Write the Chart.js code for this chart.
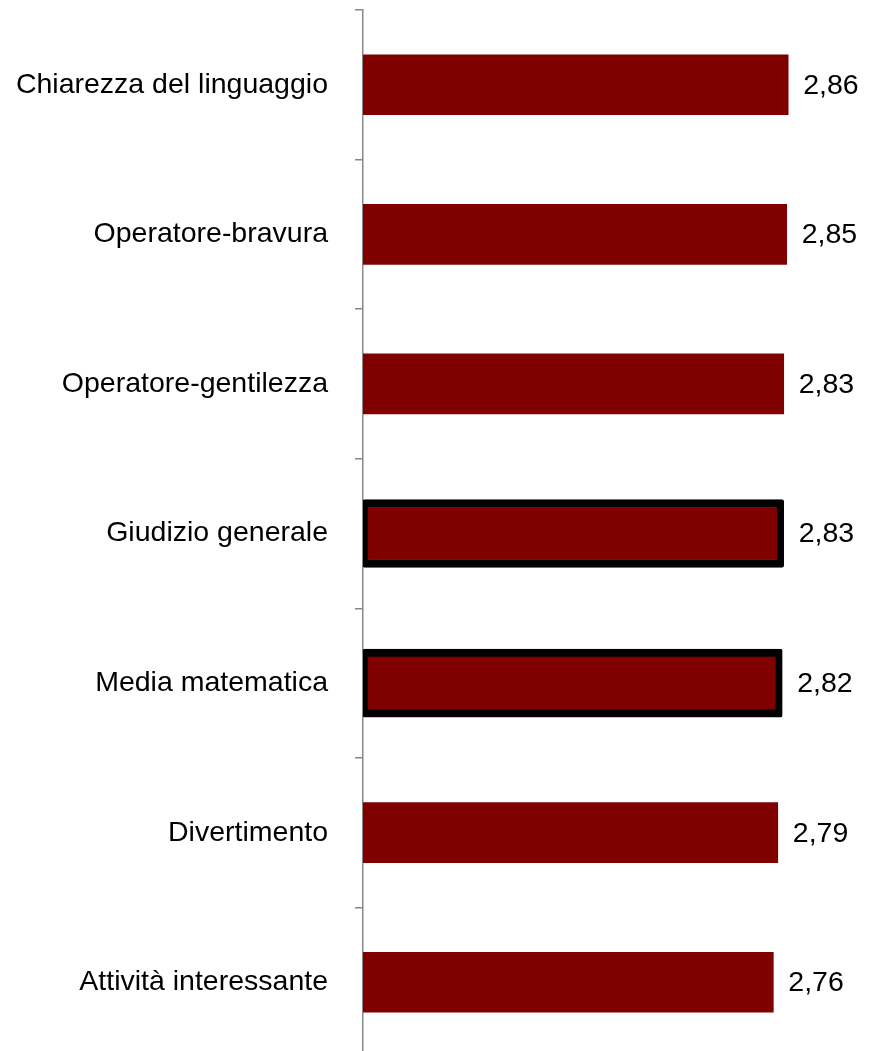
<!DOCTYPE html>
<html>
<head>
    <title>Valutazioni medie</title>
    <script src="https://cdn.jsdelivr.net/npm/chart.js"></script>
    <style>
        body { margin: 0; overflow: hidden; background: #fff; }
    </style>
</head>
<body>
    <canvas id="giudizi" width="870" height="1057"></canvas>
<script>
// categorie e punteggi medi
const categorie = ['Chiarezza del linguaggio', 'Operatore-bravura', 'Operatore-gentilezza',
    'Giudizio generale', 'Media matematica', 'Divertimento', 'Attività interessante'];
const punteggi = [2.86, 2.85, 2.83, 2.83, 2.82, 2.79, 2.76];
// voci riassuntive, disegnate con il bordo nero
const riassunti = ['Giudizio generale', 'Media matematica'];

const rosso = '#800000';
const font = "'Liberation Sans', Arial, sans-serif";
const corpo = 28.5;

const semplici = punteggi.map((v, i) => riassunti.includes(categorie[i]) ? null : v);
const bordati = punteggi.map((v, i) => riassunti.includes(categorie[i]) ? v : null);

// scrive il valore a destra di ogni barra
const etichetteValori = {
    id: 'etichetteValori',
    afterDatasetsDraw(chart) {
        const ctx = chart.ctx;
        ctx.save();
        ctx.font = corpo + 'px ' + font;
        ctx.fillStyle = '#000';
        ctx.textAlign = 'left';
        ctx.textBaseline = 'middle';
        chart.data.datasets.forEach((ds, d) => {
            chart.getDatasetMeta(d).data.forEach((bar, i) => {
                if (ds.data[i] == null) return;
                ctx.fillText(ds.data[i].toFixed(2).replace('.', ','), bar.x + 15, bar.y + 1);
            });
        });
        ctx.restore();
    }
};

new Chart(document.getElementById('giudizi'), {
    type: 'bar',
    data: {
        labels: categorie,
        datasets: [{
            data: semplici,
            backgroundColor: rosso,
            borderWidth: 0,
            barThickness: 60,
            grouped: false
        }, {
            data: bordati,
            backgroundColor: rosso,
            borderColor: '#000',
            borderWidth: { left: 5, right: 7, top: 8, bottom: 8 },
            borderSkipped: false,
            borderRadius: 2,
            barThickness: 68,
            grouped: false
        }]
    },
    options: {
        indexAxis: 'y',
        responsive: false,
        animation: false,
        devicePixelRatio: 1,
        layout: { padding: { top: 10, right: 61, bottom: 0, left: 0 } },
        plugins: {
            legend: { display: false },
            tooltip: { enabled: false }
        },
        scales: {
            x: { display: false, min: 0, max: 3 },
            y: {
                afterFit(scale) {
                    scale.width = 363;
                    scale.paddingTop = 0;
                    scale.paddingBottom = 0;
                },
                border: { display: true, color: '#888', width: 1.5 },
                grid: {
                    drawOnChartArea: false,
                    drawTicks: true,
                    tickLength: 8,
                    color: '#888',
                    lineWidth: 1.5
                },
                ticks: {
                    color: '#000',
                    padding: 27,
                    font: { family: font, size: corpo }
                }
            }
        }
    },
    plugins: [etichetteValori]
});
</script>
</body>
</html>
